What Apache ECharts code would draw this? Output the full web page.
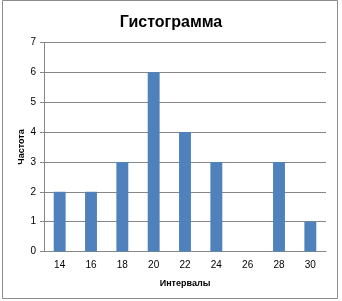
<!DOCTYPE html>
<html><head><meta charset="utf-8">
<script src="https://cdn.jsdelivr.net/npm/echarts@6/dist/echarts.min.js"></script>
<style>html,body{margin:0;padding:0;background:#fff}#c{width:342px;height:301px}</style>
</head><body><div id="c"></div>
<script>
var categories = ['14','16','18','20','22','24','26','28','30'];
var frequencies = [2,2,3,6,4,3,0,3,1];
var chart = echarts.init(document.getElementById('c'), null, {renderer:'canvas'});
chart.setOption({
  animation:false,
  backgroundColor:'#fff',
  title:{text:'Гистограмма', left:'center', top:10,
    textStyle:{fontFamily:'Liberation Sans, Arial', fontWeight:'bold', fontSize:16, color:'#000'}},
  graphic:[{type:'rect', shape:{x:2.5,y:0.5,width:335,height:298}, style:{fill:'none', stroke:'#8c8c8c', lineWidth:1}, silent:true}],
  grid:{left:44, right:16, top:42.5, bottom:49.5, containLabel:false},
  xAxis:{type:'category', data:categories,
    axisLine:{lineStyle:{color:'#878787'}}, axisTick:{show:false},
    axisLabel:{color:'#000', fontSize:10, fontFamily:'Liberation Sans, Arial', margin:9},
    name:'Интервалы', nameLocation:'middle', nameGap:28, nameMoveOverlap:false,
    nameTextStyle:{fontWeight:'bold', fontSize:9, fontFamily:'Liberation Sans, Arial', color:'#000'}},
  yAxis:{type:'value', min:0, max:7, interval:1,
    axisLine:{show:true, lineStyle:{color:'#878787'}},
    axisTick:{show:true, length:4, lineStyle:{color:'#878787'}},
    splitLine:{lineStyle:{color:'#878787'}},
    axisLabel:{color:'#000', fontSize:10, fontFamily:'Liberation Sans, Arial', margin:8},
    name:'Частота', nameLocation:'middle', nameGap:18, nameRotate:90, nameMoveOverlap:false,
    nameTextStyle:{fontWeight:'bold', fontSize:9, fontFamily:'Liberation Sans, Arial', color:'#000'}},
  series:[{type:'bar', data:frequencies, barWidth:'38%', itemStyle:{color:'#4F81BD'}}]
});
</script></body></html>
